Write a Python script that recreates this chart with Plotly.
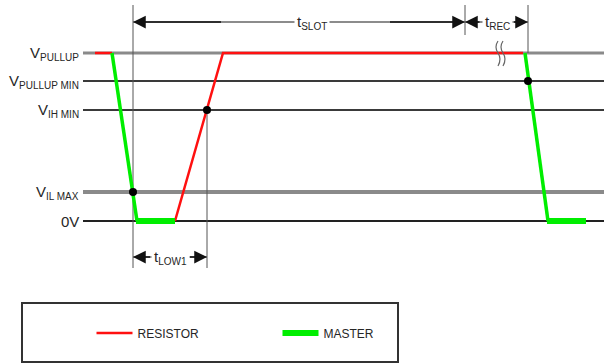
import plotly.graph_objects as go

# ---- data (diagram coordinates, x = time, y = level position) ----
level_main = ["V", "V", "V", "V", "0V"]
level_sub = ["PULLUP", "PULLUP MIN", "IH MIN", "IL MAX", ""]
level_y = [53, 81, 110, 192, 221]
level_colors = ["#8a8a8a", "#3a3a3a", "#3a3a3a", "#8a8a8a", "#222222"]
level_widths = [3, 2, 2, 4, 2]
level_x_start = 83
level_x_end = 604

resistor_x = [95, 112, None, 175, 223, 523]
resistor_y = [53, 53, None, 221, 53, 53]

master_slope_x = [112, 137, None, 525, 548]
master_slope_y = [53, 221, None, 53, 221]
master_flat_x = [136, 175, None, 547, 586]
master_flat_y = [221, 221, None, 221, 221]

dot_x = [133, 207, 528]
dot_y = [192, 110, 81]

marker_x = [133, 207, 465, 528]
marker_top = [5, 110, 5, 5]
marker_bottom = [268, 268, 35, 53]

dim_main = ["t", "t", "t"]
dim_sub = ["SLOT", "REC", "LOW1"]
dim_x0 = [133, 465, 133]
dim_x1 = [465, 528, 207]
dim_y = [22, 22, 257]
dim_xc = [312, 497, 170]

FONT = "Liberation Sans, Arial"
TXT = "#262626"
MAIN = 15
SUB = 10


def lab(main, sub):
    if not sub:
        return f"<span style='font-size:{MAIN}px'>{main}</span>"
    return f"{main}<sub><span style='font-size:{SUB}px'>{sub}</span></sub>"


fig = go.Figure()

# level lines
for y, c, w in zip(level_y, level_colors, level_widths):
    fig.add_shape(type="line", x0=level_x_start, x1=level_x_end, y0=y, y1=y,
                  line=dict(color=c, width=w), layer="below")
# level labels
for m, s, y in zip(level_main, level_sub, level_y):
    fig.add_annotation(x=81, y=y, text=lab(m, s), showarrow=False, xanchor="right", yanchor="middle",
                       font=dict(family=FONT, size=MAIN, color=TXT))

# vertical markers
for x, t, b in zip(marker_x, marker_top, marker_bottom):
    fig.add_shape(type="line", x0=x, x1=x, y0=t, y1=b, line=dict(color="#555555", width=1), layer="below")

# dimension arrows
for m, s, x0, x1, y, xc in zip(dim_main, dim_sub, dim_x0, dim_x1, dim_y, dim_xc):
    fig.add_shape(type="line", x0=x0, x1=x1, y0=y, y1=y, line=dict(color="#666666", width=1.5), layer="below")
    for xa in (x0, x1):
        fig.add_annotation(x=xa, y=y, ax=(xa + xc) / 2, ay=y, axref="x", ayref="y", xref="x", yref="y",
                           text="", showarrow=True, arrowhead=2, arrowsize=1.7, arrowwidth=1.5,
                           arrowcolor="#111111", standoff=0)
    fig.add_annotation(x=xc, y=y, text=lab(m, s), showarrow=False, bgcolor="white",
                       font=dict(family=FONT, size=MAIN, color=TXT), borderpad=2)

# break marks on pull-up line
for dx in (0, 5):
    fig.add_shape(type="path",
                  path=f"M {498+dx} 41 Q {494+dx} 47 {498+dx} 53 Q {502+dx} 59 {498+dx} 66",
                  line=dict(color="#666666", width=1.2))

# signals
fig.add_trace(go.Scatter(x=resistor_x, y=resistor_y, mode="lines", name="RESISTOR",
                         line=dict(color="#ff1010", width=2.5), legendgroup="r"))
fig.add_trace(go.Scatter(x=master_slope_x, y=master_slope_y, mode="lines", name="MASTER",
                         line=dict(color="#00ee00", width=3.5), legendgroup="m", showlegend=False))
fig.add_trace(go.Scatter(x=master_flat_x, y=master_flat_y, mode="lines", name="MASTER",
                         line=dict(color="#00ee00", width=6), legendgroup="m"))
fig.add_trace(go.Scatter(x=dot_x, y=dot_y, mode="markers", showlegend=False,
                         marker=dict(color="black", size=8)))

# legend frame
fig.add_shape(type="rect", x0=22, x1=398, y0=303, y1=362, line=dict(color="#333333", width=2))

fig.update_layout(
    width=604, height=364, margin=dict(l=0, r=0, t=0, b=0),
    plot_bgcolor="white", paper_bgcolor="white",
    xaxis=dict(range=[0, 604], visible=False, fixedrange=True),
    yaxis=dict(range=[364, 0], visible=False, fixedrange=True),
    showlegend=True,
    legend=dict(orientation="h", x=91.5 / 604, y=1 - 333 / 364, xanchor="left", yanchor="middle",
                itemwidth=36, entrywidth=135, entrywidthmode="pixels", bgcolor="rgba(0,0,0,0)",
                font=dict(family=FONT, size=12, color=TXT)),
)

fig.write_html("out.html")
